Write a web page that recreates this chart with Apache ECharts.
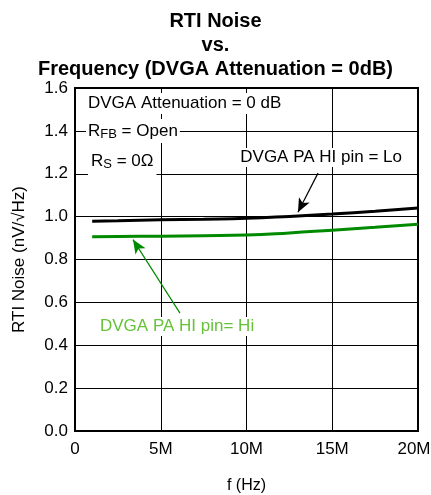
<!DOCTYPE html>
<html>
<head>
<meta charset="utf-8">
<script src="https://cdn.jsdelivr.net/npm/echarts@6/dist/echarts.min.js"></script>
<style>html,body{margin:0;padding:0;background:#fff}#c{width:431px;height:495px}</style>
</head>
<body>
<div id="c"></div>
<script>
// Data (frequency in Hz, noise in nV/sqrt(Hz))
var freqs = [1e6, 2.5e6, 5e6, 7.5e6, 10e6, 12.5e6, 15e6, 17.5e6, 20e6];
var noiseLo = [0.979, 0.981, 0.985, 0.988, 0.992, 1.001, 1.012, 1.025, 1.040];
var noiseHi = [0.906, 0.907, 0.909, 0.911, 0.914, 0.924, 0.937, 0.950, 0.964];
var xTicks = [0, 5e6, 10e6, 15e6, 20e6];
var yTicks = [0, 0.2, 0.4, 0.6, 0.8, 1.0, 1.2, 1.4, 1.6];

var FONT = 'Liberation Sans, Arial, sans-serif';
function pairs(xs, ys){ return xs.map(function(x,i){ return [x, ys[i]]; }); }

var chart = echarts.init(document.getElementById('c'), null, {renderer:'canvas'});
chart.setOption({
  animation: false,
  backgroundColor: '#fff',
  title: {
    text: 'RTI Noise\nvs.\nFrequency (DVGA Attenuation = 0dB)',
    left: 'center', top: 4,
    textStyle: {fontFamily: FONT, fontWeight: 'bold', fontSize: 20, lineHeight: 24, color: '#000'}
  },
  grid: {left: 75, top: 88, right: 13, bottom: 64, outerBoundsMode: 'none', containLabel: false,
    show: true, borderColor: '#000', borderWidth: 2, backgroundColor: 'transparent'},
  xAxis: {
    type: 'value', min: xTicks[0], max: xTicks[xTicks.length-1], interval: 5e6,
    name: 'f (Hz)', nameLocation: 'middle', nameGap: 47,
    nameTextStyle: {fontFamily: FONT, fontSize: 16, color: '#000'},
    axisLine: {show: true, lineStyle: {color: '#000', width: 2}},
    axisTick: {show: false},
    axisLabel: {fontFamily: FONT, fontSize: 17, color: '#000', margin: 10,
      rich: {r: {fontFamily: FONT, fontSize: 17, color: '#000', padding: [0, 8, 0, 0]}},
      formatter: function(v){
        if (v === 0) return '0';
        var s = (v/1e6) + 'M';
        return v === xTicks[xTicks.length-1] ? '{r|' + s + '}' : s;
      }},
    splitLine: {show: true, lineStyle: {color: '#000', width: 1}}
  },
  yAxis: {
    type: 'value', min: yTicks[0], max: yTicks[yTicks.length-1], interval: 0.2,
    name: 'RTI Noise (nV/\u221AHz)', nameLocation: 'middle', nameGap: 47, nameRotate: 90,
    nameTextStyle: {fontFamily: FONT, fontSize: 17, color: '#000'},
    axisLine: {show: true, lineStyle: {color: '#000', width: 2}},
    axisTick: {show: false},
    axisLabel: {fontFamily: FONT, fontSize: 17, color: '#000', margin: 7,
      formatter: function(v){ return v.toFixed(1); }},
    splitLine: {show: true, lineStyle: {color: '#000', width: 1}}
  },
  series: [
    {
      name: 'DVGA PA HI pin = Lo', type: 'line', data: pairs(freqs, noiseLo),
      smooth: true, showSymbol: false, lineStyle: {color: '#000', width: 3}, z: 5,
      markLine: {
        silent: true, symbol: ['none', 'arrow'], symbolSize: [9, 14],
        label: {show: false},
        lineStyle: {color: '#000', width: 1.2, type: 'solid'},
        data: [[{coord: [14.17e6, 1.203]}, {coord: [13.0e6, 1.020]}]]
      }
    },
    {
      name: 'DVGA PA HI pin= Hi', type: 'line', data: pairs(freqs, noiseHi),
      smooth: true, showSymbol: false, lineStyle: {color: '#008a00', width: 3}, z: 5,
      markLine: {
        silent: true, symbol: ['none', 'arrow'], symbolSize: [9, 14],
        label: {show: false},
        lineStyle: {color: '#008a00', width: 1.2, type: 'solid'},
        data: [[{coord: [6.12e6, 0.550]}, {coord: [3.38e6, 0.893]}]]
      }
    }
  ],
  graphic: [
    {type: 'text', left: 86, top: 93, z: 10, style: {text: 'DVGA Attenuation = 0 dB', font: '17px ' + FONT, fill: '#000', backgroundColor: '#fff', padding: [2, 2, 2, 2]}},
    {type: 'text', left: 86, top: 119, z: 10, style: {
      rich: {a: {font: '17px ' + FONT, fill: '#000'}, s: {font: '13px ' + FONT, fill: '#000', padding: [7, 0, 0, 0]}},
      text: '{a|R}{s|FB}{a| = Open}', backgroundColor: '#fff', padding: [2, 2, 2, 2]}},
    {type: 'text', left: 88, top: 147, z: 10, style: {
      rich: {a: {font: '17px ' + FONT, fill: '#000'}, s: {font: '13px ' + FONT, fill: '#000', padding: [7, 0, 0, 0]}},
      text: '{a|R}{s|S}{a| = 0\u03A9}', backgroundColor: '#fff', padding: [4, 3, 6, 3]}},
    {type: 'text', right: 28, top: 148, z: 10, style: {text: 'DVGA PA HI pin = Lo', font: '17px ' + FONT, fill: '#000', backgroundColor: '#fff', padding: [1, 1, 1, 1]}},
    {type: 'text', left: 99, top: 317, z: 10, style: {text: 'DVGA PA HI pin= Hi', font: '17px ' + FONT, fill: '#66c23a', backgroundColor: '#fff', padding: [1, 1, 1, 1]}}
  ]
});
</script>
</body>
</html>
